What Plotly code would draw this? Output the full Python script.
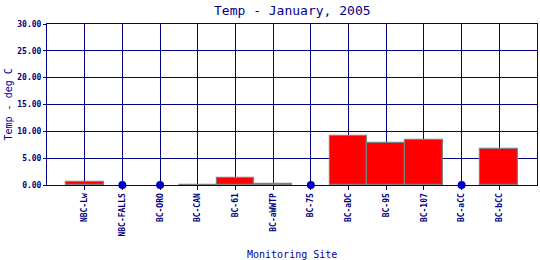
import plotly.graph_objects as go

sites = ["NBC-Lw", "NBC-FALLS", "BC-ORO", "BC-CAN", "BC-61", "BC-aWWTP",
         "BC-75", "BC-aDC", "BC-95", "BC-107", "BC-aCC", "BC-bCC"]
temps = [0.5, None, None, 0.03, 1.3, 0.12, None, 9.05, 7.75, 8.3, None, 6.65]
missing_sites = ["NBC-FALLS", "BC-ORO", "BC-75", "BC-aCC"]
missing_vals = [0, 0, 0, 0]
y_ticks = [0, 5, 10, 15, 20, 25, 30]

navy = "#000080"
mono = "DejaVu Sans Mono"

L, R, T, B = 47, 3, 24, 75
W, H = 540, 260
pw, ph = W - L - R, H - T - B

fig = go.Figure()
fig.add_trace(go.Bar(
    x=sites, y=temps,
    marker=dict(color="#ff0000", line=dict(color="#808080", width=1.2)),
))
fig.add_trace(go.Scatter(
    x=missing_sites, y=missing_vals, mode="markers",
    marker=dict(color="#0000cc", size=8),
    cliponaxis=False,
))

fig.update_layout(
    width=W, height=H,
    margin=dict(l=L, r=R, t=T, b=B, autoexpand=False),
    paper_bgcolor="white", plot_bgcolor="white",
    showlegend=False, bargap=0,
    xaxis=dict(
        type="category", categoryorder="array", categoryarray=sites,
        range=[-1, 12], automargin=False,
        showgrid=True, gridcolor=navy, gridwidth=1,
        showline=True, linecolor=navy, linewidth=1, mirror=True,
        ticks="outside", ticklen=4, tickcolor=navy,
        tickangle=-90,
        tickfont=dict(family=mono, size=8, color=navy, weight="bold"),
    ),
    yaxis=dict(
        range=[0, 30], tickvals=y_ticks, tickformat=".2f", automargin=False,
        showgrid=True, gridcolor=navy, gridwidth=1,
        zeroline=False,
        showline=True, linecolor=navy, linewidth=1, mirror=True,
        ticks="outside", ticklen=3, tickcolor=navy,
        tickfont=dict(family=mono, size=8, color=navy, weight="bold"),
    ),
    annotations=[
        dict(text="Temp - January, 2005", xref="paper", yref="paper",
             x=(292 - L) / pw, y=(H - B - 10) / ph,
             xanchor="center", yanchor="middle", showarrow=False,
             font=dict(family=mono, size=13, color="#00008b")),
        dict(text="Monitoring Site", xref="paper", yref="paper",
             x=(292 - L) / pw, y=-(254 - (H - B)) / ph,
             xanchor="center", yanchor="middle", showarrow=False,
             font=dict(family=mono, size=10, color="#0000a0")),
        dict(text="Temp - deg C", xref="paper", yref="paper",
             x=(8 - L) / pw, y=0.5, textangle=-90,
             xanchor="center", yanchor="middle", showarrow=False,
             font=dict(family=mono, size=10, color="#0000a0")),
    ],
)

fig.write_html("out.html")
